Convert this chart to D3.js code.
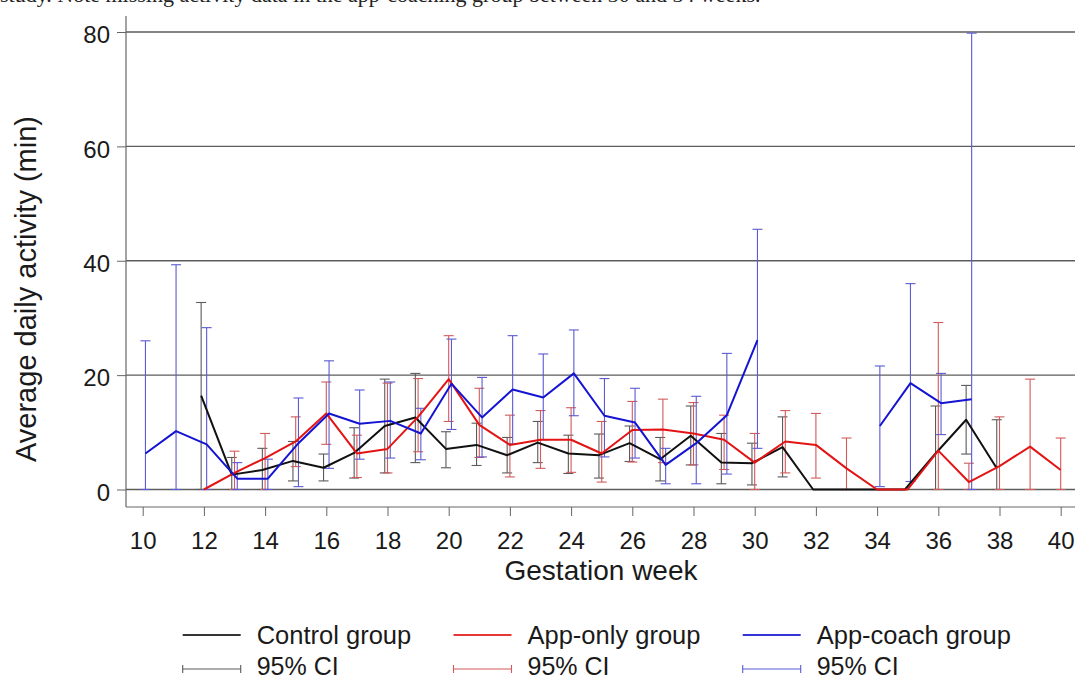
<!DOCTYPE html>
<html>
<head>
<meta charset="utf-8">
<script src="https://cdn.jsdelivr.net/npm/d3@7"></script>
<style>
  html, body { margin: 0; padding: 0; background: #fff; }
  svg { display: block; }
  text { font-family: "Liberation Sans", Arial, sans-serif; fill: #1a1a1a; }
</style>
</head>
<body>
<svg id="chart" width="1075" height="681"></svg>
<script>
// ---------- data ----------
const weeks = [10,11,12,13,14,15,16,17,18,19,20,21,22,23,24,25,26,27,28,29,30,31,32,33,34,35,36,37,38,39,40];

const controlMean = [null,null,16.4,2.6,3.4,5.0,3.8,6.4,11.1,12.6,7.1,7.8,6.0,8.2,6.3,6.0,8.1,5.3,9.4,4.7,4.6,7.4,0,0,0,0,6.3,12.2,3.7,null,null];
const controlLow  = [null,null,0,0,0,1.5,1.5,2.0,2.9,4.7,3.8,4.2,2.9,4.7,2.8,2.0,4.9,1.5,4.3,1.0,0.8,2.2,null,null,null,null,0,6.2,0,null,null];
const controlHigh = [null,null,32.7,5.6,7.2,8.4,6.2,10.8,19.3,20.3,10.1,11.6,9.1,11.9,9.5,9.7,11.1,9.1,14.6,9.8,8.1,12.7,null,null,null,null,14.6,18.2,12.2,null,null];

const appOnlyMean = [null,null,0,2.9,5.5,8.4,13.3,6.3,7.1,12.7,19.3,11.3,7.8,8.7,8.7,6.3,10.4,10.5,9.8,8.7,4.7,8.4,7.8,3.7,0,0,6.8,1.3,4.1,7.5,3.4];
const appOnlyLow  = [null,null,null,0,0,4.0,7.9,2.1,2.9,6.6,11.9,5.6,2.2,3.7,3.0,1.3,4.8,4.7,4.3,3.5,0,2.9,2.0,0,null,null,0,0,0,0,0];
const appOnlyHigh = [null,null,null,6.7,9.8,12.7,18.8,9.5,18.6,19.4,26.9,17.7,13.0,13.8,14.3,11.9,15.4,15.8,15.2,13.0,9.8,13.8,13.3,9.0,null,null,29.2,4.6,12.7,19.3,9.0];

const appCoachMean = [6.3,10.2,7.9,1.9,1.9,8.1,13.3,11.5,12.0,9.8,18.5,12.6,17.5,16.1,20.3,12.9,11.7,4.3,8.1,13.0,26.1,null,null,null,11.1,18.6,15.1,15.8,null,null,null];
const appCoachLow  = [0,0,0,0,0,0.5,3.7,5.3,5.5,5.2,10.5,5.7,8.0,8.7,12.9,5.7,5.5,1.0,1.0,2.7,7.2,null,null,null,0.5,1.4,9.6,0,null,null,null];
const appCoachHigh = [26.0,39.3,28.3,4.7,5.3,16.0,22.5,17.4,18.8,14.2,26.3,19.6,26.9,23.7,27.9,19.4,17.7,7.2,16.3,23.8,45.5,null,null,null,21.6,36.0,20.3,79.8,null,null,null];

const yTicks = [0,20,40,60,80];
const xTicks = [10,12,14,16,18,20,22,24,26,28,30,32,34,36,38,40];
const seriesNames = ["Control group","App-only group","App-coach group"];
const ciLabel = "95% CI";
const captionText = "study. Note missing activity data in the app-coaching group between 30 and 34 weeks.";

// ---------- styles ----------
const lineColors = ["#111111","#e31414","#1414d2"];
const ciColors   = ["#5a5a5a","#d25a5a","#5a5ad2"];
const offsets    = [-0.09, 0, 0.09];   // small horizontal dodge, in weeks

const series = [
  {mean: controlMean, low: controlLow, high: controlHigh},
  {mean: appOnlyMean, low: appOnlyLow, high: appOnlyHigh},
  {mean: appCoachMean, low: appCoachLow, high: appCoachHigh}
];

const svg = d3.select("#chart");
const x = d3.scaleLinear().domain([10,40]).range([142.7,1060.7]);
const y = d3.scaleLinear().domain([0,80]).range([489.5,32]);

const axisX = 126, axisY = 507, rightEdge = 1075;

// caption remnant at top (only its lowest part is visible, as in the source)
svg.append("text")
  .attr("x", 0).attr("y", 1.5)
  .style("font-family", "'Liberation Serif', 'Times New Roman', serif")
  .style("font-size", "22px")
  .style("fill", "#222")
  .text(captionText);

// gridlines
svg.append("g").selectAll("line").data(yTicks).join("line")
  .attr("x1", axisX).attr("x2", rightEdge)
  .attr("y1", d => y(d)).attr("y2", d => y(d))
  .attr("stroke", "#5c5c5c").attr("stroke-width", 1.3);

// axes
const gy = svg.append("g").attr("transform", `translate(${axisX},0)`)
  .call(d3.axisLeft(y).tickValues(yTicks).tickSize(9).tickSizeOuter(0).tickPadding(7));
gy.select(".domain").remove();
gy.selectAll(".tick line").attr("stroke", "#666");
gy.selectAll(".tick text").style("font-size", "24px").attr("dy", "0.45em")
  .style("font-family", "'Liberation Sans', Arial, sans-serif").attr("fill", "#1a1a1a");

const gx = svg.append("g").attr("transform", `translate(0,${axisY})`)
  .call(d3.axisBottom(x).tickValues(xTicks).tickSize(9).tickSizeOuter(0).tickFormat(d3.format("d")));
gx.select(".domain").remove();
gx.selectAll(".tick line").attr("stroke", "#666");
gx.selectAll(".tick text").style("font-size", "24px").attr("y", 33.5).attr("dy", "0.36em")
  .style("font-family", "'Liberation Sans', Arial, sans-serif").attr("fill", "#1a1a1a");

svg.append("line").attr("x1", axisX).attr("x2", axisX).attr("y1", 16).attr("y2", axisY)
  .attr("stroke", "#666").attr("stroke-width", 1.2);
svg.append("line").attr("x1", axisX).attr("x2", rightEdge).attr("y1", axisY).attr("y2", axisY)
  .attr("stroke", "#666").attr("stroke-width", 1.2);

// axis titles
svg.append("text")
  .attr("transform", "translate(36,289) rotate(-90)")
  .attr("text-anchor", "middle")
  .style("font-size", "29px")
  .text("Average daily activity (min)");
svg.append("text")
  .attr("x", 601).attr("y", 580)
  .attr("text-anchor", "middle")
  .style("font-size", "28px")
  .text("Gestation week");

// error bars
const capHalf = 5;
series.forEach((s, i) => {
  const pts = weeks.map((w, k) => ({w: w + offsets[i], lo: s.low[k], hi: s.high[k]}))
    .filter(d => d.lo != null && d.hi != null);
  const g = svg.append("g").attr("stroke", ciColors[i]).attr("stroke-width", 1.1).attr("fill", "none");
  g.selectAll("line.v").data(pts).join("line").attr("class", "v")
    .attr("x1", d => x(d.w)).attr("x2", d => x(d.w))
    .attr("y1", d => y(d.lo)).attr("y2", d => y(d.hi));
  g.selectAll("line.t").data(pts).join("line").attr("class", "t")
    .attr("x1", d => x(d.w) - capHalf).attr("x2", d => x(d.w) + capHalf)
    .attr("y1", d => y(d.hi)).attr("y2", d => y(d.hi));
  g.selectAll("line.b").data(pts).join("line").attr("class", "b")
    .attr("x1", d => x(d.w) - capHalf).attr("x2", d => x(d.w) + capHalf)
    .attr("y1", d => y(d.lo)).attr("y2", d => y(d.lo));
});

// mean lines
series.forEach((s, i) => {
  const pts = weeks.map((w, k) => ({w: w + offsets[i], v: s.mean[k]}));
  const line = d3.line().defined(d => d.v != null).x(d => x(d.w)).y(d => y(d.v));
  svg.append("path").datum(pts)
    .attr("d", line)
    .attr("fill", "none")
    .attr("stroke", lineColors[i])
    .attr("stroke-width", 2)
    .attr("stroke-linejoin", "round");
});

// legend
const legX = [182.7, 453.5, 742.7];
const legW = 58;
const row1 = 635, row2 = 669;
const leg = svg.append("g");
seriesNames.forEach((name, i) => {
  leg.append("line").attr("x1", legX[i]).attr("x2", legX[i] + legW)
    .attr("y1", row1).attr("y2", row1)
    .attr("stroke", lineColors[i]).attr("stroke-width", 2.2).attr("opacity", 0.85);
  leg.append("text").attr("x", legX[i] + 74).attr("y", row1).attr("dy", "0.36em")
    .style("font-size", "25.5px").text(name);
  const gci = leg.append("g").attr("stroke", ciColors[i]).attr("stroke-width", 1.1);
  gci.append("line").attr("x1", legX[i]).attr("x2", legX[i] + legW).attr("y1", row2).attr("y2", row2);
  gci.append("line").attr("x1", legX[i]).attr("x2", legX[i]).attr("y1", row2 - 4).attr("y2", row2 + 4);
  gci.append("line").attr("x1", legX[i] + legW).attr("x2", legX[i] + legW).attr("y1", row2 - 4).attr("y2", row2 + 4);
  leg.append("text").attr("x", legX[i] + 74).attr("y", 675)
    .style("font-size", "25px").text(ciLabel);
});
</script>
</body>
</html>
